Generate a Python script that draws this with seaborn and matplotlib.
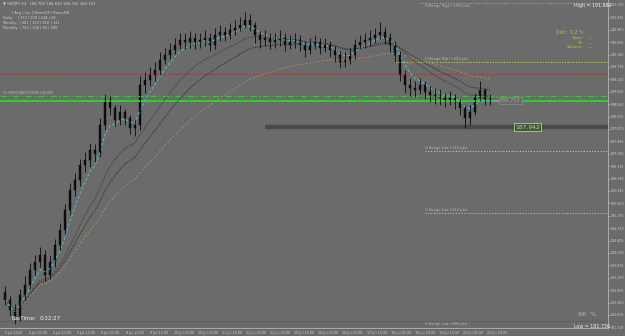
import numpy as np
import pandas as pd
import matplotlib
matplotlib.use("Agg")
import matplotlib.pyplot as plt
import seaborn as sns

# ---------------- data ----------------
first_open = 182.80
closes = [182.56, 182.25, 182.00, 182.72, 183.03, 183.49, 183.74, 183.96, 183.34, 183.74,
          184.27, 184.73, 185.35, 185.98, 186.29, 186.75, 186.91, 187.22, 187.10, 187.99,
          188.77, 188.52, 188.15, 188.40, 188.21, 187.90, 187.99, 189.24, 189.39, 189.55,
          189.70, 190.01, 190.17, 190.32, 190.48, 190.63, 190.57, 190.70, 190.57, 190.63,
          190.70, 190.48, 190.79, 190.88, 190.79, 190.94, 191.01, 191.10, 191.25, 191.10,
          190.79, 190.63, 190.70, 190.57, 190.63, 190.70, 190.48, 190.57, 190.63, 190.48,
          190.32, 190.48, 190.57, 190.38, 190.48, 190.32, 190.17, 189.95, 190.01, 190.17,
          190.48, 190.57, 190.63, 190.70, 190.79, 190.88, 190.70, 190.48, 190.17, 189.55,
          189.24, 189.14, 189.08, 189.24, 189.02, 188.93, 188.89, 188.83, 188.77, 188.83,
          188.71, 188.52, 188.21, 188.40, 188.83, 189.08, 188.77, 188.76]
highs = [183.00, 182.70, 182.45, 182.90, 183.30, 183.70, 183.95, 184.20, 184.10, 183.95,
         184.45, 184.95, 185.55, 186.20, 186.50, 186.95, 187.15, 187.45, 187.40, 188.20,
         188.95, 188.90, 188.60, 188.60, 188.50, 188.30, 188.15, 189.50, 189.65, 189.80,
         189.95, 190.25, 190.40, 190.55, 190.70, 190.85, 190.85, 190.90, 190.85, 190.85,
         190.95, 190.85, 191.00, 191.10, 191.05, 191.15, 191.25, 191.35, 191.50, 191.45,
         191.20, 190.90, 190.95, 190.85, 190.85, 190.95, 190.85, 190.80, 190.85, 190.80,
         190.60, 190.70, 190.80, 190.70, 190.70, 190.60, 190.45, 190.30, 190.25, 190.40,
         190.65, 190.80, 190.85, 190.95, 191.00, 191.20, 191.05, 190.85, 190.60, 190.30,
         189.70, 189.45, 189.35, 189.45, 189.35, 189.20, 189.15, 189.10, 189.00, 189.05,
         188.95, 188.80, 188.60, 188.60, 189.00, 189.35, 189.15, 188.95]
lows = [182.40, 182.05, 181.80, 181.90, 182.55, 182.90, 183.35, 183.60, 183.15, 183.20,
        183.60, 184.10, 184.60, 185.20, 185.80, 186.10, 186.55, 186.70, 186.85, 187.00,
        187.85, 188.30, 187.95, 188.00, 188.00, 187.70, 187.65, 187.85, 189.00, 189.20,
        189.35, 189.55, 189.90, 190.05, 190.20, 190.35, 190.35, 190.40, 190.35, 190.40,
        190.45, 190.30, 190.35, 190.60, 190.60, 190.65, 190.80, 190.90, 191.00, 190.90,
        190.55, 190.40, 190.45, 190.35, 190.40, 190.45, 190.30, 190.35, 190.40, 190.30,
        190.10, 190.20, 190.35, 190.20, 190.25, 190.10, 189.95, 189.75, 189.80, 189.90,
        190.05, 190.35, 190.40, 190.45, 190.55, 190.65, 190.50, 190.25, 189.95, 189.35,
        189.00, 188.90, 188.85, 188.95, 188.80, 188.70, 188.65, 188.60, 188.55, 188.60,
        188.50, 188.30, 187.90, 188.00, 188.30, 188.75, 188.60, 188.60]

price_ticks = ["191.720", "191.335", "190.950", "190.565", "190.180", "189.795", "189.410",
               "189.025", "188.640", "188.255", "187.870", "187.485", "187.100", "186.715",
               "186.330", "185.945", "185.560", "185.175", "184.790", "184.405", "184.020",
               "183.635", "183.250", "182.865", "182.480", "182.095", "181.710"]
time_ticks = ["3 Jul 2024", "4 Jul 07:00", "4 Jul 23:00", "5 Jul 15:00", "8 Jul 07:00",
              "8 Jul 23:00", "9 Jul 15:00", "10 Jul 07:00", "10 Jul 23:00", "11 Jul 15:00",
              "12 Jul 07:00", "12 Jul 23:00", "15 Jul 15:00", "16 Jul 07:00", "16 Jul 23:00",
              "17 Jul 15:00", "18 Jul 07:00", "18 Jul 23:00", "19 Jul 15:00", "22 Jul 07:00",
              "22 Jul 23:00"]

# horizontal levels
zone_dashdot = 188.89
zone_solid = 188.73
red_level_top = 189.58
red_level_bottom = 181.91
range_prices = [191.79, 189.95, 187.19, 185.26]
range_labels = ["H Range High (+893 pts)", "H Range Mid (+332 pts)",
                "H Range Low (-351 pts)", "H Range Low (-613 pts)"]
bottom_range_label = "H Range Low (-880 pts)"
gray_level = 187.93
current_price = 188.763
gray_level_label = "187.942"

# ---------------- figure ----------------
sns.set_theme(style="dark")
plt.rcParams["font.family"] = ["DejaVu Sans"]
BG = "#6b6b6b"
W, H = 625, 336
fig = plt.figure(figsize=(W / 100, H / 100), dpi=100, facecolor=BG)
ax = fig.add_axes([0, 8 / H, 608 / W, 328 / H])
ax.set_facecolor(BG)

n = len(closes)
opens = [first_open] + closes[:-1]
df = pd.DataFrame({"bar": np.arange(n), "open": opens, "close": closes,
                   "high": highs, "low": lows})
df["ema_fast"] = df["close"].ewm(span=5).mean()
df["ema_mid"] = df["close"].ewm(span=14).mean()
df["ema_slow"] = df["close"].ewm(span=21).mean()
df["ema_long"] = df["close"].ewm(span=45).mean()

# horizontal levels
ax.axhline(red_level_top, color="#a33a3a", lw=0.8, ls=(0, (2, 1.5)))
ax.axhline(red_level_bottom, color="#a33a3a", lw=0.8, ls=(0, (2, 1.5)))
ax.axhline(zone_dashdot, color="#3fbf3f", lw=0.9, ls=(0, (5, 2, 1, 2)))
ax.axhline(zone_solid, color="#2ed12e", lw=1.4)
ax.hlines(gray_level, 52, 121, color="#4a4a4a", lw=3.2)
range_colors = ["#a8a8a8", "#c8c850", "#c8c8a0", "#c0c0a8"]
range_start = [83, 78, 84, 84]
for k, (p, lab, c, s) in enumerate(zip(range_prices, range_labels, range_colors, range_start)):
    ax.hlines(p, s, 121, color=c, lw=0.8, ls=(0, (1, 1.5)))
    if k == 0:
        ax.text(84, p - 0.03, lab, fontsize=2.6, color="#b8b8b8", va="top", ha="left")
    else:
        ax.text(84, p + 0.02, lab, fontsize=2.6, color="#b8b8b8", va="bottom", ha="left")
ax.text(84, red_level_bottom - 0.03, bottom_range_label, fontsize=2.6,
        color="#b8b8b8", va="top", ha="left")

# moving averages
sns.lineplot(data=df, x="bar", y="ema_long", ax=ax, color="#b08a55", lw=0.6,
             linestyle=(0, (3, 2)))
sns.lineplot(data=df, x="bar", y="ema_slow", ax=ax, color="#2a2a2a", lw=0.7,
             linestyle=(0, (1, 1)))
sns.lineplot(data=df, x="bar", y="ema_mid", ax=ax, color="#3a3a3a", lw=0.7,
             linestyle=(0, (1, 1)))
sns.lineplot(data=df, x="bar", y="ema_fast", ax=ax, color="#3cc8d8", lw=0.7,
             linestyle=(0, (3, 2)))

# candles
ax.vlines(df["bar"], df["low"], df["high"], color="#0a0a0a", lw=0.6)
body = (df["close"] - df["open"]).abs().clip(lower=0.03)
ax.bar(df["bar"], body, bottom=df[["open", "close"]].min(axis=1), width=0.4,
       color="#111111", edgecolor="#0a0a0a", linewidth=0.3)

# price boxes
ax.hlines(current_price, n - 0.5, n + 0.8, color="#9a9a9a", lw=0.6)
ax.text(n + 1.0, current_price, f"{current_price:.3f}", fontsize=3.6, color="#9a9a9a",
        va="center", ha="left",
        bbox=dict(boxstyle="square,pad=0.2", fc=BG, ec="#8a8a8a", lw=0.5))
ax.text(n + 4.0, gray_level, gray_level_label, fontsize=4.3, color="#7cff2a",
        va="center", ha="left",
        bbox=dict(boxstyle="square,pad=0.2", fc="#505050", ec="#7cff2a", lw=0.6))

# axes
ax.set_xlim(-1, 120.6)
ax.set_ylim(181.691, 191.875)
tick_vals = [float(t) for t in price_ticks]
ax.yaxis.tick_right()
ax.set_yticks(tick_vals)
ax.set_yticklabels(price_ticks)
ax.set_xticks(np.arange(len(time_ticks)) * 4.82)
ax.set_xticklabels(time_ticks)
ax.tick_params(axis="y", labelsize=2.3, colors="#d0d0d0", length=1.2, width=0.4, pad=0.6)
ax.tick_params(axis="x", labelsize=2.4, colors="#d0d0d0", length=1.5, width=0.4, pad=1)
for lab in ax.get_xticklabels():
    lab.set_ha("left")
ax.set_xlabel("")
ax.set_ylabel("")
ax.grid(False)
for side in ["left", "top"]:
    ax.spines[side].set_visible(False)
for side in ["right", "bottom"]:
    ax.spines[side].set_color("#b4b4b4")
    ax.spines[side].set_linewidth(0.6)

# overlay texts (pixel positions)
def ftext(x, y, s, **kw):
    fig.text(x / W, 1 - y / H, s, va="center", ha="left", **kw)

ftext(3, 4, "\u25bc GBPJPY,H1  188.780 188.810 188.740 188.763", fontsize=2.7, color="#cfcfcf")
ftext(12, 13, "| Avg | Cur | RoomUP | RoomDN", fontsize=2.6, color="#cfcfcf")
ftext(3, 18, "Daily:    | 172 | 109 | 144 | 28", fontsize=2.6, color="#cfcfcf")
ftext(3, 23, "Weekly:  | 381 | 129 | 250 | 341", fontsize=2.6, color="#cfcfcf")
ftext(3, 28, "Monthly: | 763 | 338 | 80 | 588", fontsize=2.6, color="#cfcfcf")
ftext(3, 93, "H1 RESISTANCE ZONE 188.890", fontsize=2.3, color="#a6c8a6")

ftext(574, 5, "High = 191.660", fontsize=3.4, color="#f0f0f0")
ftext(574, 327, "Low = 181.736", fontsize=3.4, color="#f0f0f0")
ftext(578, 314, "96  %", fontsize=4.6, color="#b8b8b8")
ftext(12, 318, "BarTime:", fontsize=4.0, color="#f0f0f0")
ftext(40, 318, "0:32:27", fontsize=4.0, color="#f0f0f0")

info_c = "#c2c23a"
fig.text(584 / W, 1 - 33 / H, "Dist:  0.2 %", fontsize=3.4, color=info_c, ha="right", va="center")
fig.text(584 / W, 1 - 38 / H, "Open:", fontsize=3.0, color=info_c, ha="right", va="center")
fig.text(584 / W, 1 - 43 / H, "SL:", fontsize=3.0, color=info_c, ha="right", va="center")
fig.text(584 / W, 1 - 47.5 / H, "Volume:", fontsize=3.0, color=info_c, ha="right", va="center")
for yy in (38, 43, 47.5):
    fig.text(588 / W, 1 - yy / H, "\u2014", fontsize=3.0, color=info_c, ha="left", va="center")

fig.savefig("out.png", dpi=100, facecolor=BG)
